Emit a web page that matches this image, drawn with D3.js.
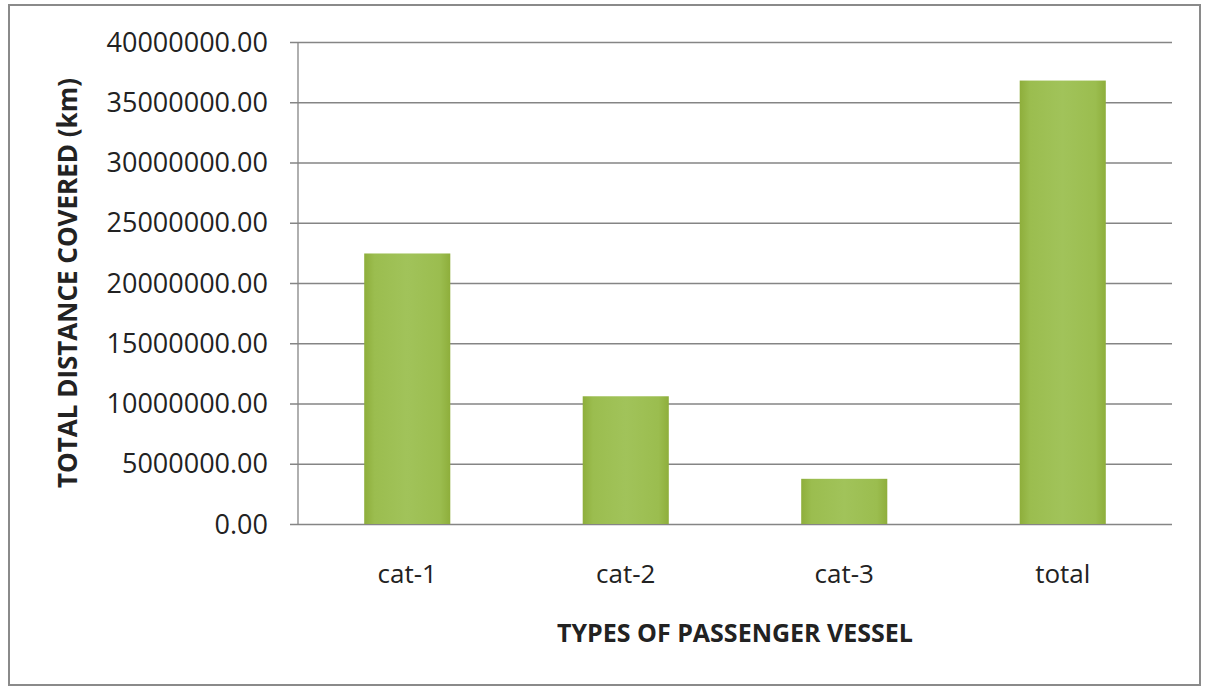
<!DOCTYPE html>
<html>
<head>
<meta charset="utf-8">
<script src="https://cdn.jsdelivr.net/npm/d3@7"></script>
<style>
  html, body { margin: 0; padding: 0; background: #fff; }
  svg { display: block; }
  text { font-family: "Open Sans", "Noto Sans", sans-serif; fill: #222; }
</style>
</head>
<body>
<svg id="chart" width="1205" height="691"></svg>
<script>
// Vessel categories and total distance covered (km)
const categories = ["cat-1", "cat-2", "cat-3", "total"];
const distances = [22450000, 10600000, 3750000, 36800000];
const yTicks = [0, 5000000, 10000000, 15000000, 20000000, 25000000, 30000000, 35000000, 40000000];
const xTitle = "TYPES OF PASSENGER VESSEL";
const yTitle = "TOTAL DISTANCE COVERED (km)";

const W = 1205, H = 691;
const plot = { left: 298, right: 1172, top: 42, bottom: 524 };

const svg = d3.select("#chart");

// outer frame
svg.append("rect")
  .attr("x", 9).attr("y", 5)
  .attr("width", 1191).attr("height", 680)
  .attr("fill", "#fff")
  .attr("stroke", "#8a8a8a").attr("stroke-width", 2);

// bar fill gradient
const defs = svg.append("defs");
const grad = defs.append("linearGradient").attr("id", "barFill")
  .attr("x1", "0%").attr("x2", "100%").attr("y1", "0%").attr("y2", "0%");
grad.append("stop").attr("offset", "0%").attr("stop-color", "#8eae3b");
grad.append("stop").attr("offset", "12%").attr("stop-color", "#9bbd4f");
grad.append("stop").attr("offset", "50%").attr("stop-color", "#a1c35a");
grad.append("stop").attr("offset", "88%").attr("stop-color", "#9bbd4f");
grad.append("stop").attr("offset", "100%").attr("stop-color", "#8eae3b");

const x = d3.scaleBand()
  .domain(categories)
  .range([plot.left, plot.right])
  .paddingInner(0.606)
  .paddingOuter(0.303);

const y = d3.scaleLinear()
  .domain([0, 40000000])
  .range([plot.bottom, plot.top]);

// gridlines + left ticks
const yAxis = d3.axisLeft(y)
  .tickValues(yTicks)
  .tickSize(-(plot.right - plot.left))
  .tickSizeOuter(0)
  .tickFormat(d => d3.format(".2f")(d));

const gy = svg.append("g")
  .attr("transform", `translate(${plot.left},0)`)
  .call(yAxis);
gy.select(".domain").remove();
gy.selectAll(".tick line")
  .attr("x1", -8)
  .attr("stroke", "#858585")
  .attr("stroke-width", 1.3);
gy.selectAll(".tick text")
  .attr("x", -30)
  .attr("dy", "0.34em")
  .style("font-size", "27px")
  .style("font-family", "'Open Sans', sans-serif")
  .attr("fill", "#222");

// vertical axis line
svg.append("line")
  .attr("x1", plot.left).attr("x2", plot.left)
  .attr("y1", plot.top).attr("y2", plot.bottom)
  .attr("stroke", "#858585").attr("stroke-width", 1.3);

// bars
svg.append("g").selectAll("rect")
  .data(categories)
  .join("rect")
  .attr("x", d => x(d))
  .attr("width", x.bandwidth())
  .attr("y", (d, i) => y(distances[i]))
  .attr("height", (d, i) => y(0) - y(distances[i]))
  .attr("fill", "url(#barFill)");

// category labels
svg.append("g").selectAll("text")
  .data(categories)
  .join("text")
  .attr("x", d => x(d) + x.bandwidth() / 2)
  .attr("y", 583)
  .attr("text-anchor", "middle")
  .style("font-size", "26px")
  .attr("fill", "#333")
  .text(d => d);

// axis titles
svg.append("text")
  .attr("x", (plot.left + plot.right) / 2)
  .attr("y", 642)
  .attr("text-anchor", "middle")
  .style("font-size", "25px")
  .style("font-weight", "bold")
  .attr("fill", "#111")
  .text(xTitle);

svg.append("text")
  .attr("transform", `translate(77,${(plot.top + plot.bottom) / 2}) rotate(-90)`)
  .attr("text-anchor", "middle")
  .style("font-size", "26px")
  .style("font-weight", "bold")
  .attr("fill", "#111")
  .text(yTitle);
</script>
</body>
</html>
